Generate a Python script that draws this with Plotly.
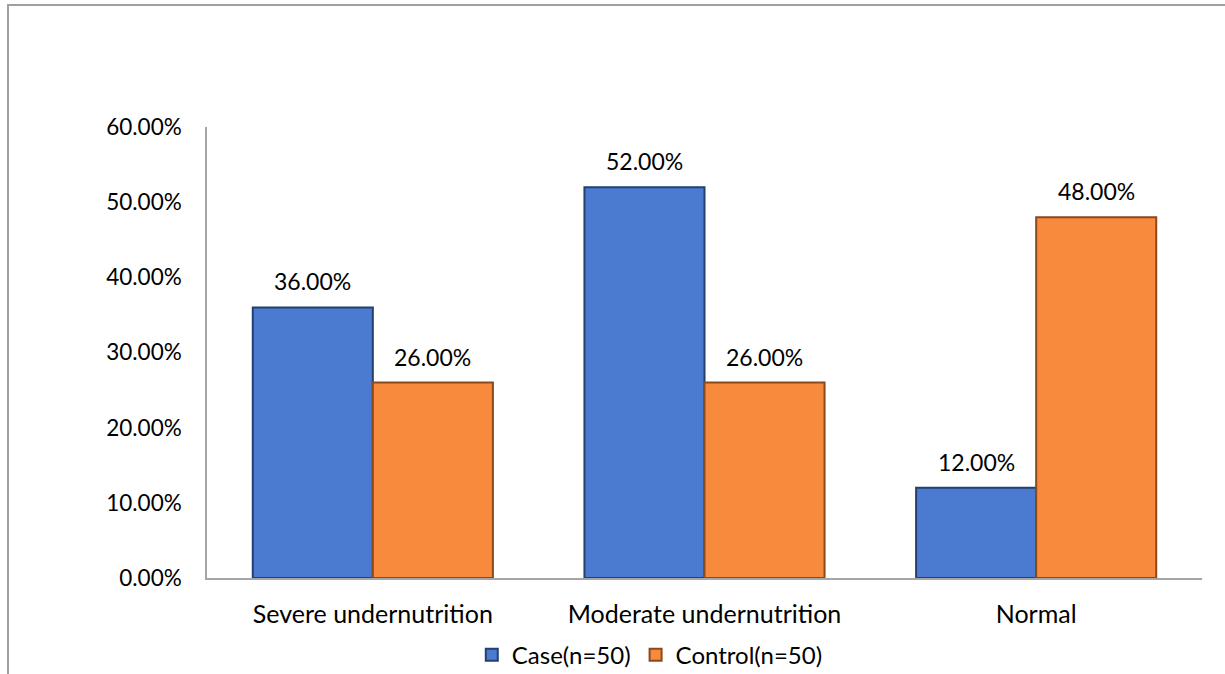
import plotly.graph_objects as go

categories = ["Severe undernutrition", "Moderate undernutrition", "Normal"]
case_vals = [36.0, 52.0, 12.0]
control_vals = [26.0, 26.0, 48.0]
series_names = ["Case(n=50)", "Control(n=50)"]
tick_vals = [0, 10, 20, 30, 40, 50, 60]
tick_text = ["0.00%", "10.00%", "20.00%", "30.00%", "40.00%", "50.00%", "60.00%"]

FONT = "Lato"
fig = go.Figure()
fig.add_trace(go.Bar(
    x=categories, y=case_vals, name=series_names[0],
    marker=dict(color="#4A7BD0", line=dict(color="#23406F", width=2)),
))
fig.add_trace(go.Bar(
    x=categories, y=control_vals, name=series_names[1],
    marker=dict(color="#F78A3C", line=dict(color="#8A4A1C", width=2)),
))

# data labels above each bar
for vals, shift in ((case_vals, -60), (control_vals, 60)):
    for c, v in zip(categories, vals):
        fig.add_annotation(x=c, y=v, xref="x", yref="y", text=f"{v:.2f}%",
                           showarrow=False, xshift=shift, yshift=26,
                           font=dict(family=FONT, size=23, color="#000000"))

fig.update_layout(
    width=1225, height=674,
    margin=dict(l=207, r=23, t=127, b=96, autoexpand=False),
    paper_bgcolor="white", plot_bgcolor="white",
    barmode="group", bargap=0.276, bargroupgap=0,
    font=dict(family=FONT, size=22, color="#000000"),
    showlegend=True,
    legend=dict(orientation="h", x=0.445, xanchor="center", y=-0.171, yanchor="middle",
                font=dict(family=FONT, size=24), itemwidth=30, traceorder="normal"),
)
fig.update_xaxes(showline=True, linecolor="#A6A6A6", linewidth=1.5, showgrid=False,
                 ticks="", ticklabelstandoff=13, automargin=False,
                 tickfont=dict(family=FONT, size=25))
fig.update_yaxes(range=[0, 60], tickvals=tick_vals, ticktext=tick_text,
                 showline=True, linecolor="#A6A6A6", linewidth=1.5, showgrid=False,
                 zeroline=False, ticks="", ticklabelstandoff=19, automargin=False,
                 tickfont=dict(family=FONT, size=22.5))

# chart-area border (left and top visible in the reference)
fig.add_shape(type="rect", xref="paper", yref="paper",
              x0=-0.2, x1=1.2, y0=-0.4, y1=1.2705,
              line=dict(color="#A0A0A0", width=2), fillcolor="rgba(0,0,0,0)", layer="below")

fig.write_html("out.html")
